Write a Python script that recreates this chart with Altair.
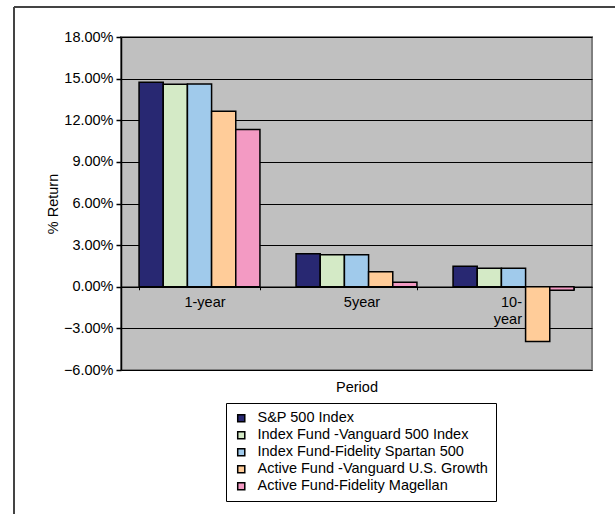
import altair as alt
import pandas as pd

periods = ["1-year", "5year", "10-year"]
funds = [
    "S&P 500 Index",
    "Index Fund -Vanguard 500 Index",
    "Index Fund-Fidelity Spartan 500",
    "Active Fund -Vanguard U.S. Growth",
    "Active Fund-Fidelity Magellan",
]
sp500 = [0.1473, 0.0238, 0.0148]
vanguard_index = [0.1460, 0.0230, 0.0134]
fidelity_index = [0.1462, 0.0230, 0.0134]
vanguard_growth = [0.1264, 0.0108, -0.0395]
magellan = [0.1134, 0.0033, -0.0025]
colors = ["#282872", "#D4EAC6", "#A0CAEB", "#FFCC99", "#F39AC3"]
y_ticks = [-0.06, -0.03, 0.0, 0.03, 0.06, 0.09, 0.12, 0.15, 0.18]

series = [sp500, vanguard_index, fidelity_index, vanguard_growth, magellan]
rows = []
for f, vals in zip(funds, series):
    for p, v in zip(periods, vals):
        rows.append({"period": p, "fund": f, "ret": v})
df = pd.DataFrame(rows)

FONT = "Liberation Sans"
FS = 14.5

bars = alt.Chart(df).mark_bar(stroke="black", strokeWidth=1.5).encode(
    x=alt.X(
        "period:N",
        sort=periods,
        scale=alt.Scale(paddingInner=0.23, paddingOuter=0.115),
        axis=alt.Axis(
            title="Period",
            titleFont=FONT,
            titleFontSize=FS,
            titleFontWeight="normal",
            titleColor="black",
            titlePadding=54,
            labelAngle=0,
            labelFont=FONT,
            labelFontSize=FS,
            labelColor="black",
            labelPadding=6,
            labelLineHeight=17,
            labelExpr="datum.label == '10-year' ? ['10-', 'year'] : datum.label",
            labelAlign={
                "condition": {"test": "datum.value == '10-year'", "value": "right"},
                "value": "center",
            },
            labelOffset={
                "condition": {"test": "datum.value == '10-year'", "value": 8},
                "value": 5,
            },
            offset=-83.25,
            domainColor="black",
            domainWidth=1.5,
            tickBand="extent",
            tickColor="black",
            tickSize=3,
            tickWidth=1,
        ),
    ),
    xOffset=alt.XOffset(
        "fund:N", sort=funds, scale=alt.Scale(paddingInner=0, paddingOuter=0)
    ),
    y=alt.Y(
        "ret:Q",
        scale=alt.Scale(domain=[-0.06, 0.18], nice=False, zero=False),
        axis=alt.Axis(
            title="% Return",
            titleFont=FONT,
            titleFontSize=FS,
            titleFontWeight="normal",
            titleColor="black",
            titlePadding=3,
            values=y_ticks,
            format=".2%",
            labelFont=FONT,
            labelFontSize=FS,
            labelColor="black",
            labelPadding=3,
            domainColor="black",
            domainWidth=1.5,
            tickColor="black",
            tickSize=5,
            tickWidth=1.5,
            grid=True,
            gridColor="black",
            gridWidth=1,
        ),
    ),
    color=alt.Color(
        "fund:N",
        sort=funds,
        scale=alt.Scale(domain=funds, range=colors),
        legend=alt.Legend(
            title=None,
            orient="none",
            legendX=105,
            legendY=366,
            direction="vertical",
            strokeColor="black",
            fillColor="white",
            padding=8,
            symbolType="square",
            symbolSize=50,
            symbolStrokeColor="black",
            symbolStrokeWidth=1.5,
            symbolOpacity=1,
            labelFont=FONT,
            labelFontSize=FS,
            labelColor="black",
            labelOffset=9,
            labelLimit=400,
            rowPadding=2,
        ),
    ),
)

frame_data = pd.DataFrame({"k": [0]})
top_line = alt.Chart(frame_data).mark_rule(color="#444444", strokeWidth=2).encode(
    x=alt.value(-107), x2=alt.value(494), y=alt.value(-30)
)
left_line = alt.Chart(frame_data).mark_rule(color="#444444", strokeWidth=2).encode(
    x=alt.value(-107), y=alt.value(-30), y2=alt.value(477)
)

chart = (
    alt.layer(bars, top_line, left_line)
    .properties(
        width=471,
        height=333,
        autosize=alt.AutoSizeParams(type="none"),
        padding={"left": 121, "top": 37, "right": 23, "bottom": 144},
        background="white",
    )
    .configure_view(fill="#C0C0C0", stroke="#7F7F7F", strokeWidth=2)
)

chart.save("out.html", embed_options={"renderer": "svg", "actions": False})
